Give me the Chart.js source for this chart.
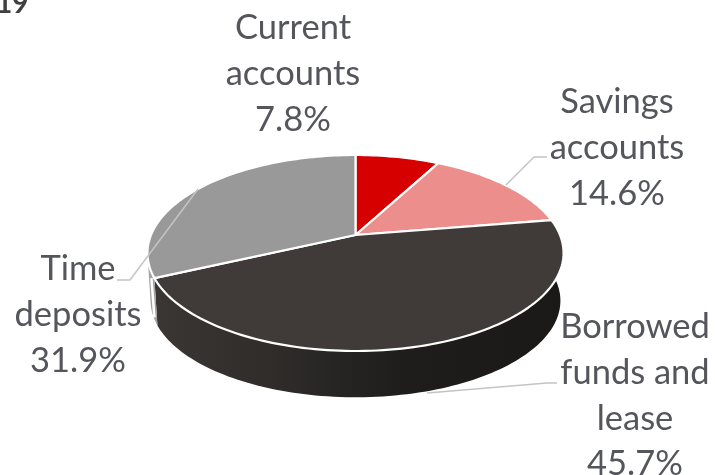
<!DOCTYPE html>
<html><head><meta charset="utf-8">
<style>html,body{margin:0;padding:0;background:#fff}canvas{display:block}</style>
<script src="https://cdn.jsdelivr.net/npm/chart.js@4"></script></head>
<body><canvas id="c" width="715" height="475"></canvas>
<script>
const categories = ['Current accounts','Savings accounts','Borrowed funds and lease','Time deposits'];
const shares = [7.8,14.6,45.7,31.9];
const sliceColors = ['#d60000','#ec8f8c','#403b38','#999999'];
const labelLines = [['Current','accounts','7.8%'],['Savings','accounts','14.6%'],['Borrowed','funds and','lease','45.7%'],['Time','deposits','31.9%']];
const labelCentres = [[293,28],[617,102],[635,327],[78,269]];
const leaders = [[[506,185],[534,157],[547,157]],[[427,393],[547,383],[557,383]],[[198,189],[130,280],[117,280]]];

const view = {cx:355.5, cy:235, R:204.5, A:94.7, b:0.1837, depth:48, lowScale:0.985};
function project(t, low){
  const x=Math.sin(t), y=Math.cos(t), d=1+view.b*y;
  const s=low?view.lowScale:1;
  return [view.cx+s*view.R*x/d, view.cy-s*view.A*y/d+(low?view.depth:0)];
}
function ringPath(ctx,t0,t1,low,first){
  const n=Math.max(2,Math.ceil(Math.abs(t1-t0)*40));
  for(let i=0;i<=n;i++){
    const p=project(t0+(t1-t0)*i/n,low);
    if(i===0&&first) ctx.moveTo(p[0],p[1]); else ctx.lineTo(p[0],p[1]);
  }
}
const perspectivePie = {
  id:'perspectivePie',
  beforeDatasetDraw(chart,args){
    const ctx=chart.ctx, arcs=chart.getDatasetMeta(args.index).data;
    const th=a=>a+Math.PI/2;
    ctx.save();
    const dark=arcs[2], grey=arcs[3];
    const hs=th(dark.startAngle), he=th(dark.endAngle);
    const g=ctx.createLinearGradient(150,0,560,0);
    g.addColorStop(0,'#3b3734');g.addColorStop(0.3,'#2f2c2a');g.addColorStop(0.62,'#1e1d1c');g.addColorStop(1,'#1a1917');
    ctx.beginPath();ringPath(ctx,he,hs,false,true);ringPath(ctx,hs,he,true,false);ctx.closePath();
    ctx.fillStyle=g;ctx.fill();
    const gs=th(grey.startAngle);
    ctx.beginPath();ringPath(ctx,gs,gs+0.2,false,true);ringPath(ctx,gs+0.2,gs,true,false);ctx.closePath();
    ctx.fillStyle='#a3a3a3';ctx.fill();
    ctx.strokeStyle='#fff';ctx.lineWidth=2.5;
    const a=project(he,false),b=project(he,true);
    ctx.beginPath();ctx.moveTo(a[0]-3,a[1]);ctx.lineTo(b[0]-3,b[1]-8);ctx.stroke();
    arcs.forEach((arc)=>{
      ctx.beginPath();ctx.moveTo(view.cx,view.cy);
      ringPath(ctx,th(arc.startAngle),th(arc.endAngle),false,false);
      ctx.closePath();
      ctx.fillStyle=arc.options.backgroundColor;ctx.fill();
      ctx.strokeStyle='#ffffff';ctx.lineWidth=2.2;ctx.lineJoin='round';ctx.stroke();
    });
    ctx.restore();
    return false;
  },
  afterDraw(chart){
    const ctx=chart.ctx;
    ctx.save();
    ctx.strokeStyle='#c4c4c4';ctx.lineWidth=1.5;
    leaders.forEach(l=>{ctx.beginPath();l.forEach((p,i)=>i?ctx.lineTo(p[0],p[1]):ctx.moveTo(p[0],p[1]));ctx.stroke();});
    ctx.fillStyle='#54565c';ctx.font='34.5px Lato';ctx.textAlign='center';ctx.textBaseline='middle';
    labelLines.forEach((lines,i)=>lines.forEach((s,j)=>ctx.fillText(s,labelCentres[i][0],labelCentres[i][1]+j*45.7)));
    ctx.fillStyle='#404040';ctx.font='bold 28px Lato';ctx.textAlign='left';ctx.textBaseline='alphabetic';
    ctx.fillText('19',-4,13);
    ctx.restore();
  }
};
new Chart(document.getElementById('c'),{
  type:'pie',
  data:{labels:categories,datasets:[{data:shares,backgroundColor:sliceColors}]},
  options:{responsive:false,animation:false,plugins:{legend:{display:false},tooltip:{enabled:false}}},
  plugins:[perspectivePie]
});
</script></body></html>
